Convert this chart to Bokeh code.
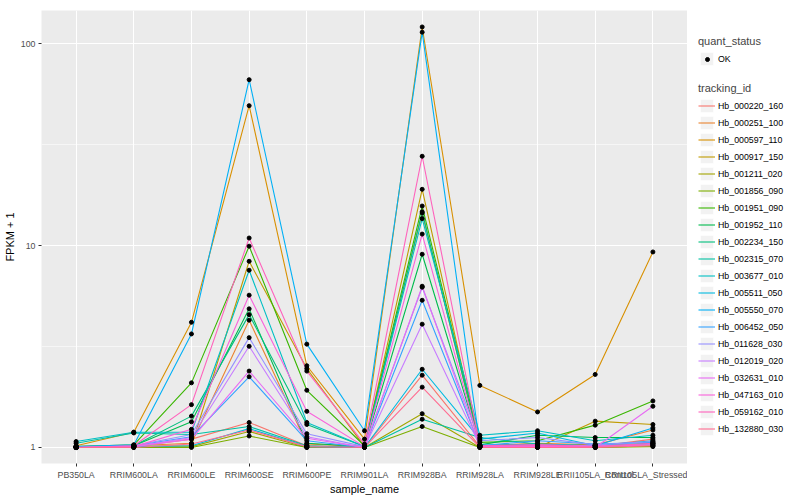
from bokeh.plotting import figure
from bokeh.models import (Range1d, FixedTicker, Legend, LegendItem, ColumnDataSource)
from bokeh.layouts import row
from bokeh.embed import file_html
from bokeh.resources import INLINE

samples = ["PB350LA", "RRIM600LA", "RRIM600LE", "RRIM600SE", "RRIM600PE", "RRIM901LA",
           "RRIM928BA", "RRIM928LA", "RRIM928LE", "RRII105LA_Control", "RRII105LA_Stressed"]

tracking_ids = ["Hb_000220_160", "Hb_000251_100", "Hb_000597_110", "Hb_000917_150",
                "Hb_001211_020", "Hb_001856_090", "Hb_001951_090", "Hb_001952_110",
                "Hb_002234_150", "Hb_002315_070", "Hb_003677_010", "Hb_005511_050",
                "Hb_005550_070", "Hb_006452_050", "Hb_011628_030", "Hb_012019_020",
                "Hb_032631_010", "Hb_047163_010", "Hb_059162_010", "Hb_132880_030"]

colors = ["#F8766D", "#EA8331", "#D89000", "#C09B00", "#A3A500", "#7CAE00", "#39B600",
          "#00BB4E", "#00BF7D", "#00C1A3", "#00BFC4", "#00BAE0", "#00B0F6", "#35A2FF",
          "#9590FF", "#C77CFF", "#E76BF3", "#FA62DB", "#FF62BC", "#FF6C91"]

# FPKM + 1 per sample (order of `samples`)
hb_000220_160 = [1.00, 1.01, 1.10, 1.33, 1.02, 1.00, 2.28, 1.01, 1.01, 1.01, 1.10]
hb_000251_100 = [1.01, 1.02, 1.05, 4.27, 1.04, 1.01, 14.5, 1.02, 1.05, 1.03, 1.22]
hb_000597_110 = [1.02, 1.19, 4.17, 49.3, 2.54, 1.10, 121.0, 2.03, 1.50, 2.30, 9.30]
hb_000917_150 = [1.00, 1.01, 1.02, 8.36, 2.46, 1.01, 19.0, 1.01, 1.00, 1.35, 1.30]
hb_001211_020 = [1.00, 1.00, 1.01, 1.20, 1.00, 1.00, 1.47, 1.00, 1.00, 1.00, 1.02]
hb_001856_090 = [1.00, 1.00, 1.00, 1.14, 1.00, 1.00, 1.27, 1.00, 1.00, 1.00, 1.01]
hb_001951_090 = [1.01, 1.03, 2.09, 9.93, 1.92, 1.02, 15.7, 1.06, 1.08, 1.29, 1.70]
hb_001952_110 = [1.01, 1.02, 1.34, 4.86, 1.05, 1.01, 9.06, 1.03, 1.15, 1.12, 1.12]
hb_002234_150 = [1.01, 1.02, 1.43, 4.55, 1.30, 1.01, 14.7, 1.02, 1.04, 1.02, 1.05]
hb_002315_070 = [1.05, 1.18, 1.16, 1.27, 1.02, 1.00, 1.38, 1.12, 1.04, 1.02, 1.04]
hb_003677_010 = [1.07, 1.19, 1.19, 7.55, 1.33, 1.01, 13.6, 1.15, 1.21, 1.08, 1.15]
hb_005511_050 = [1.01, 1.01, 1.02, 1.24, 1.01, 1.00, 2.44, 1.10, 1.18, 1.02, 1.08]
hb_005550_070 = [1.01, 1.03, 3.65, 66.3, 3.25, 1.21, 114.0, 1.03, 1.02, 1.02, 1.25]
hb_006452_050 = [1.00, 1.02, 1.13, 2.24, 1.08, 1.00, 5.36, 1.02, 1.08, 1.04, 1.06]
hb_011628_030 = [1.00, 1.02, 1.16, 3.50, 1.17, 1.01, 6.22, 1.08, 1.12, 1.03, 1.07]
hb_012019_020 = [1.00, 1.01, 1.12, 3.17, 1.13, 1.00, 4.08, 1.02, 1.03, 1.02, 1.04]
hb_032631_010 = [1.00, 1.01, 1.10, 2.39, 1.11, 1.00, 6.29, 1.01, 1.02, 1.00, 1.60]
hb_047163_010 = [1.00, 1.01, 1.23, 5.68, 1.51, 1.01, 11.4, 1.01, 1.01, 1.01, 1.03]
hb_059162_010 = [1.00, 1.02, 1.63, 10.9, 2.39, 1.04, 27.7, 1.02, 1.03, 1.01, 1.05]
hb_132880_030 = [1.00, 1.00, 1.04, 1.22, 1.01, 1.00, 1.99, 1.00, 1.00, 1.00, 1.02]

series = [hb_000220_160, hb_000251_100, hb_000597_110, hb_000917_150, hb_001211_020,
          hb_001856_090, hb_001951_090, hb_001952_110, hb_002234_150, hb_002315_070,
          hb_003677_010, hb_005511_050, hb_005550_070, hb_006452_050, hb_011628_030,
          hb_012019_020, hb_032631_010, hb_047163_010, hb_059162_010, hb_132880_030]

xs = list(range(1, len(samples) + 1))

FONT = "Liberation Sans"
TOTAL_H = 493

p = figure(output_backend="svg", toolbar_location=None,
           y_axis_type="log", x_range=Range1d(0.4, len(samples) + 0.6),
           y_range=Range1d(0.833, 146),
           min_border_left=0, min_border_right=0, min_border_top=10, min_border_bottom=30)
p.frame_width = 646
p.frame_height = 453
p.background_fill_color = "#EBEBEB"
p.border_fill_color = "white"
p.outline_line_color = None

p.xaxis.ticker = FixedTicker(ticks=xs)
p.xaxis.major_label_overrides = {x: s for x, s in zip(xs, samples)}
p.yaxis.ticker = FixedTicker(ticks=[1, 10, 100], minor_ticks=[10 ** 0.5, 10 ** 1.5])
p.yaxis.major_label_overrides = {1: "1", 10: "10", 100: "100"}
for ax in (p.xaxis, p.yaxis):
    ax.axis_line_color = None
    ax.major_tick_line_color = "#333333"
    ax.major_tick_in = 0
    ax.major_tick_out = 3
    ax.minor_tick_line_color = None
    ax.major_label_text_font = FONT
    ax.major_label_text_font_size = "8.8px"
    ax.major_label_text_color = "#4D4D4D"
    ax.axis_label_text_font = FONT
    ax.axis_label_text_font_size = "11px"
    ax.axis_label_text_font_style = "normal"
    ax.axis_label_text_color = "black"
p.xaxis.major_label_standoff = 3
p.yaxis.major_label_standoff = 2
p.xaxis.axis_label = "sample_name"
p.yaxis.axis_label = "FPKM + 1"
p.xaxis.axis_label_standoff = 0
p.yaxis.axis_label_standoff = 2

p.xgrid.ticker = FixedTicker(ticks=xs)
p.xgrid.grid_line_color = "white"
p.xgrid.grid_line_width = 1.1
p.ygrid.grid_line_color = "white"
p.ygrid.grid_line_width = 1.1
p.ygrid.minor_grid_line_color = "white"
p.ygrid.minor_grid_line_width = 0.55

for col, vals in zip(colors, series):
    src = ColumnDataSource(dict(x=xs, y=vals))
    p.line("x", "y", source=src, line_color=col, line_width=1.1)

for vals in series:
    src = ColumnDataSource(dict(x=xs, y=vals))
    p.scatter("x", "y", source=src, size=4, color="black")

# ---- legend panel (keys drawn from off-range dummy renderers) ----
lg = figure(output_backend="svg", toolbar_location=None, width=104, height=TOTAL_H,
            x_range=Range1d(0, 1), y_range=Range1d(0, 1),
            x_axis_location=None, y_axis_location=None,
            min_border_left=0, min_border_right=0, min_border_top=0, min_border_bottom=0)
lg.grid.visible = False
lg.outline_line_color = None
lg.background_fill_color = "white"
lg.border_fill_color = "white"

OFF = [5, 6]


def key_bg():
    return lg.quad(left=[5], right=[6], top=[6], bottom=[5], fill_color="#F2F2F2",
                   line_color="white", line_width=1)


items = []
for tid, col in zip(tracking_ids, colors):
    r = lg.line(x=OFF, y=OFF, line_color=col, line_width=1.1)
    items.append(LegendItem(label=tid, renderers=[key_bg(), r]))

ok_item = LegendItem(label="OK", renderers=[key_bg()])

legend_common = dict(
    border_line_color=None, background_fill_alpha=0, padding=0, margin=0, spacing=0,
    glyph_height=17, glyph_width=17, label_height=17, label_standoff=3,
    label_text_font=FONT, label_text_font_size="8.8px", label_text_color="black",
    title_text_font=FONT, title_text_font_size="11px", title_text_font_style="normal",
    title_standoff=3,
)

TRK_Y = 22
OK_Y = 392
leg2 = Legend(items=items, title="tracking_id", location=(11, TRK_Y), **legend_common)
lg.add_layout(leg2, "center")
leg1 = Legend(items=[ok_item], title="quant_status", location=(11, OK_Y), **legend_common)
lg.add_layout(leg1, "center")

# small black dot for the "OK" key (separate tiny legend over the key centre)
dot = lg.scatter(x=OFF, y=OFF, size=4, color="black")
dot_leg = Legend(items=[LegendItem(label=" ", renderers=[dot])],
                 location=(11 + 3.5, OK_Y + 3.5),
                 border_line_color=None, background_fill_alpha=0, padding=0, margin=0,
                 spacing=0, glyph_height=10, glyph_width=10, label_height=10,
                 label_width=0, label_standoff=0, label_text_font_size="1px")
lg.add_layout(dot_leg, "center")

layout = row(p, lg)
open("out.html", "w").write(file_html(layout, INLINE))
